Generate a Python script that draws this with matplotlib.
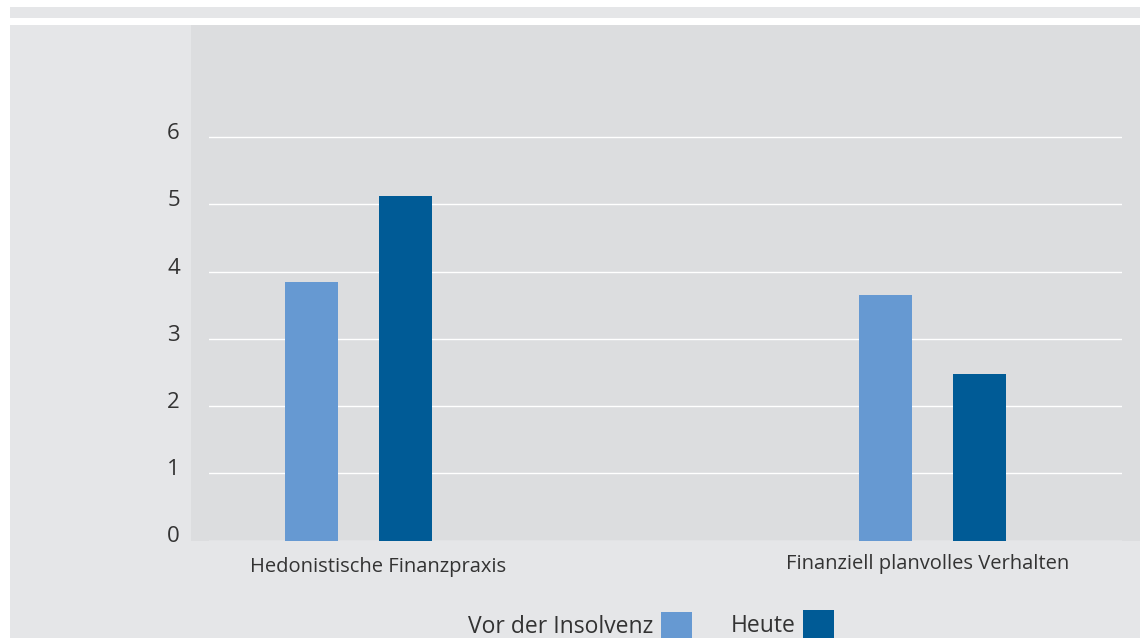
import matplotlib
matplotlib.use("Agg")
import matplotlib.pyplot as plt
import matplotlib.patches as mpatches
import matplotlib.transforms as mtransforms
import numpy as np

plt.rcParams['font.family'] = ['Open Sans', 'DejaVu Sans']

categories = ['Hedonistische Finanzpraxis', 'Finanziell planvolles Verhalten']
vor_insolvenz = [3.84, 3.65]
heute = [5.12, 2.48]
series_names = ['Vor der Insolvenz', 'Heute']
yticks = [0, 1, 2, 3, 4, 5, 6]

c_light = '#6699d2'
c_dark = '#005b96'
c_panel = '#e5e6e8'
c_plot = '#dcdddf'
c_text = '#333333'

W, H = 1140, 638
fig = plt.figure(figsize=(W / 100, H / 100), dpi=100)
fig.patch.set_facecolor('white')


def px(x, y):
    # pixel position (from top-left) -> figure fraction
    return x / W, 1 - y / H


# background blocks: thin band on top, panel, darker plotting field
for (x0, y0, x1, y1, col) in [(10, 7, W, 18, c_panel),
                              (10, 25, W, H, c_panel),
                              (191, 25, W, 540.7, c_plot)]:
    fx, fy = px(x0, y1)
    fig.patches.append(mpatches.Rectangle((fx, fy), (x1 - x0) / W, (y1 - y0) / H,
                                          transform=fig.transFigure, color=col,
                                          zorder=-1, lw=0))

l, b = px(209, 540.5)
ax = fig.add_axes([l, b, (1122 - 209) / W, (540.5 - 25) / H])
ax.set_facecolor('none')
ax.set_zorder(1)

x = np.arange(len(categories))
bw = 53 / 574
off = 47 / 574
ax.bar(x - off, vor_insolvenz, bw, color=c_light, zorder=3)
ax.bar(x + off, heute, bw, color=c_dark, zorder=3)

ax.set_xlim(-149.5 / 574, 1 + 189.5 / 574)
ax.set_ylim(0, (540.5 - 25) / 67.25)
ax.set_yticks(yticks)
ax.yaxis.grid(True, color='white', lw=1.0)
ax.set_axisbelow(True)
for s in ax.spines.values():
    s.set_visible(False)
ax.tick_params(axis='y', length=0, pad=21, labelsize=16, labelcolor=c_text)
ax.tick_params(axis='x', length=0, pad=12, labelsize=14.5, labelcolor=c_text)
ax.set_xticks(x)
ax.set_xticklabels(categories)

# nudge tick labels a little
for lab in ax.get_yticklabels():
    lab.set_transform(lab.get_transform() +
                      mtransforms.ScaledTranslation(0, 6 / 100, fig.dpi_scale_trans))
for lab, dx, dy in zip(ax.get_xticklabels(), [20, -5], [0, 3]):
    lab.set_transform(lab.get_transform() +
                      mtransforms.ScaledTranslation(dx / 100, dy / 100, fig.dpi_scale_trans))

# legend: label followed by colour square
for name, col, tx, bx, top, base in [(series_names[0], c_light, 468, 661, 612, 633),
                                     (series_names[1], c_dark, 731, 803, 610, 632)]:
    fx, fy = px(tx, base)
    fig.text(fx, fy, name, fontsize=16.5, color=c_text, ha='left', va='baseline')
    rx, ry = px(bx, H + 5)
    fig.patches.append(mpatches.Rectangle((rx, ry), 31 / W, (H + 5 - top) / H,
                                          transform=fig.transFigure, color=col,
                                          lw=0, zorder=2))

fig.savefig('out.png', dpi=100, facecolor=fig.get_facecolor())
